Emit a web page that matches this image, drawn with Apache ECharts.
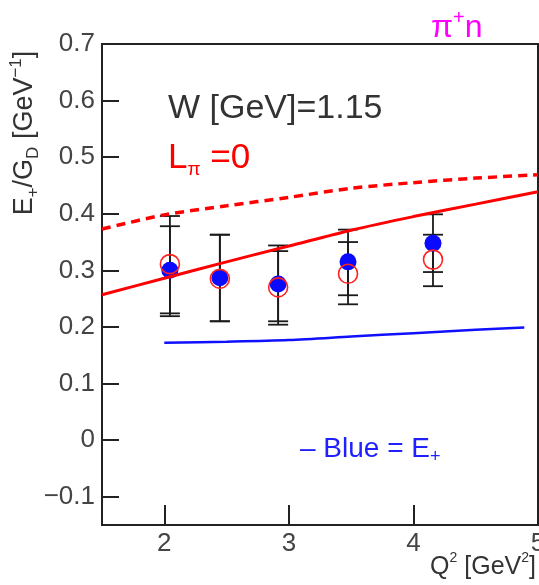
<!DOCTYPE html>
<html>
<head>
<meta charset="utf-8">
<script src="https://cdn.jsdelivr.net/npm/echarts@6.0.0/dist/echarts.min.js"></script>
<style>
  html, body { margin: 0; padding: 0; background: #fff; }
  #chart { width: 539px; height: 585px; }
</style>
</head>
<body>
<div id="chart"></div>
<script>
// measured points (Q^2 in GeV^2)
var q2 = [2.045, 2.446, 2.914, 3.475, 4.157];
var blueVals = [0.300, 0.287, 0.276, 0.315, 0.348];
var redVals = [0.311, 0.285, 0.270, 0.294, 0.319];
var errOuterHi = [0.396, 0.363, 0.344, 0.372, 0.399];
var errOuterLo = [0.219, 0.210, 0.204, 0.240, 0.272];
var errInnerHi = [0.378, 0.363, 0.334, 0.350, 0.363];
var errInnerLo = [0.224, 0.210, 0.210, 0.256, 0.297];

// model curves
var curveX = [1.5, 2, 2.5, 3, 3.5, 4, 4.5, 5];
var solidRed = [0.257, 0.286, 0.315, 0.343, 0.371, 0.395, 0.417, 0.439];
var dashedRed = [0.373, 0.398, 0.414, 0.429, 0.445, 0.455, 0.463, 0.469];
var blueX = [2, 2.5, 3, 3.5, 4, 4.5, 4.89];
var blueLine = [0.172, 0.174, 0.177, 0.183, 0.189, 0.195, 0.199];

var xTicks = [2, 3, 4, 5];
var yTicks = [-0.1, 0, 0.1, 0.2, 0.3, 0.4, 0.5, 0.6, 0.7];

var FONT = "'Liberation Sans', Arial, sans-serif";

function pairs(xs, ys) {
    return xs.map(function (x, i) { return [x, ys[i]]; });
}

function errorSeries(lo, hi) {
    return {
        type: 'custom',
        z: 2,
        data: q2.map(function (x, i) { return [x, lo[i], hi[i]]; }),
        encode: { x: 0, y: [1, 2] },
        renderItem: function (params, api) {
            var x = api.value(0);
            var a = api.coord([x, api.value(1)]);
            var b = api.coord([x, api.value(2)]);
            var w = 10;
            var st = { stroke: '#1a1a1a', lineWidth: 1.8 };
            return {
                type: 'group',
                children: [
                    { type: 'line', shape: { x1: a[0], y1: a[1], x2: b[0], y2: b[1] }, style: st },
                    { type: 'line', shape: { x1: a[0] - w, y1: a[1], x2: a[0] + w, y2: a[1] }, style: st },
                    { type: 'line', shape: { x1: b[0] - w, y1: b[1], x2: b[0] + w, y2: b[1] }, style: st }
                ]
            };
        }
    };
}

var myChart = echarts.init(document.getElementById('chart'));

var option = {
    animation: false,
    backgroundColor: '#fff',
    grid: {
        show: true,
        left: 102,
        right: 1,
        top: 44,
        bottom: 60,
        outerBoundsMode: 'none',
        containLabel: false,
        borderColor: '#222',
        borderWidth: 2,
        backgroundColor: 'transparent'
    },
    xAxis: {
        type: 'value',
        min: 1.5,
        max: 5,
        axisLine: { show: true, onZero: false, lineStyle: { color: '#222', width: 2 } },
        axisTick: { show: true, inside: true, length: 20, customValues: xTicks, lineStyle: { color: '#222', width: 2 } },
        axisLabel: {
            customValues: xTicks,
            fontSize: 26,
            color: '#444',
            margin: 6,
            fontFamily: FONT,
            alignMaxLabel: 'center'
        },
        splitLine: { show: false }
    },
    yAxis: {
        type: 'value',
        min: -0.15,
        max: 0.7,
        axisLine: { show: true, onZero: false, lineStyle: { color: '#222', width: 2 } },
        axisTick: { show: true, inside: true, length: 17, customValues: yTicks, lineStyle: { color: '#222', width: 2 } },
        axisLabel: {
            customValues: yTicks,
            fontSize: 26,
            color: '#444',
            margin: 7,
            fontFamily: FONT,
            formatter: function (v) {
                return v < 0 ? '\u2212' + String(-v) : String(v);
            }
        },
        splitLine: { show: false }
    },
    graphic: [
        {
            type: 'text',
            x: 25,
            y: 133,
            rotation: Math.PI / 2,
            style: {
                text: '{m|E}{sb|+}{m|/G}{sb|D}{m| [GeV}{sp|\u22121}{m|]}',
                align: 'center',
                verticalAlign: 'middle',
                rich: {
                    m: { fontSize: 27, lineHeight: 34, fontFamily: FONT, fill: '#333' },
                    sb: { fontSize: 17, lineHeight: 17, verticalAlign: 'bottom', fontFamily: FONT, fill: '#333' },
                    sp: { fontSize: 17, lineHeight: 17, verticalAlign: 'top', fontFamily: FONT, fill: '#333' }
                }
            }
        },
        {
            type: 'text',
            x: 168,
            y: 109,
            style: {
                text: 'W [GeV]=1.15',
                fontSize: 34,
                fontFamily: FONT,
                fill: '#333',
                align: 'left',
                verticalAlign: 'middle'
            }
        },
        {
            type: 'text',
            x: 168,
            y: 158,
            style: {
                text: '{m|L}{s|\u03c0}{m| =0}',
                align: 'left',
                verticalAlign: 'middle',
                rich: {
                    m: { fontSize: 35, lineHeight: 42, fontFamily: FONT, fill: '#ff0000' },
                    s: { fontSize: 19, lineHeight: 19, verticalAlign: 'bottom', fontFamily: FONT, fill: '#ff0000' }
                }
            }
        },
        {
            type: 'text',
            x: 431,
            y: 28,
            style: {
                text: '{m|\u03c0}{p|+}{m|n}',
                align: 'left',
                verticalAlign: 'middle',
                rich: {
                    m: { fontSize: 32, lineHeight: 40, fontFamily: FONT, fill: '#ff00ff' },
                    p: { fontSize: 20, lineHeight: 20, verticalAlign: 'top', fontFamily: FONT, fill: '#ff00ff' }
                }
            }
        },
        {
            type: 'text',
            x: 300,
            y: 449,
            style: {
                text: '{m|\u2013 Blue = E}{s|+}',
                align: 'left',
                verticalAlign: 'middle',
                rich: {
                    m: { fontSize: 28, lineHeight: 34, fontFamily: FONT, fill: '#2020ff' },
                    s: { fontSize: 18, lineHeight: 18, verticalAlign: 'bottom', fontFamily: FONT, fill: '#2020ff' }
                }
            }
        },
        {
            type: 'text',
            x: 536,
            y: 567,
            style: {
                text: '{m|Q}{p|2}{m| [GeV}{p|2}{m|]}',
                align: 'right',
                verticalAlign: 'middle',
                rich: {
                    m: { fontSize: 25, lineHeight: 32, fontFamily: FONT, fill: '#333' },
                    p: { fontSize: 14, lineHeight: 14, verticalAlign: 'top', fontFamily: FONT, fill: '#333' }
                }
            }
        }
    ],
    series: [
        errorSeries(errOuterLo, errOuterHi),
        errorSeries(errInnerLo, errInnerHi),
        {
            type: 'scatter',
            z: 3,
            symbol: 'circle',
            symbolSize: 17,
            itemStyle: { color: '#0a0aff', opacity: 1 },
            data: pairs(q2, blueVals)
        },
        {
            type: 'scatter',
            z: 4,
            symbol: 'circle',
            symbolSize: 19,
            itemStyle: { color: 'rgba(0,0,0,0)', borderColor: '#ff2020', borderWidth: 1.6, opacity: 1 },
            data: pairs(q2, redVals)
        },
        {
            type: 'line',
            z: 5,
            showSymbol: false,
            symbol: 'none',
            smooth: 0.3,
            lineStyle: { color: '#ff0000', width: 3 },
            data: pairs(curveX, solidRed)
        },
        {
            type: 'line',
            z: 5,
            showSymbol: false,
            symbol: 'none',
            smooth: 0.3,
            lineStyle: { color: '#ff0000', width: 3.5, type: [9, 6] },
            data: pairs(curveX, dashedRed)
        },
        {
            type: 'line',
            z: 5,
            showSymbol: false,
            symbol: 'none',
            smooth: 0.3,
            lineStyle: { color: '#1010ff', width: 2.5 },
            data: pairs(blueX, blueLine)
        }
    ]
};

myChart.setOption(option);
</script>
</body>
</html>
